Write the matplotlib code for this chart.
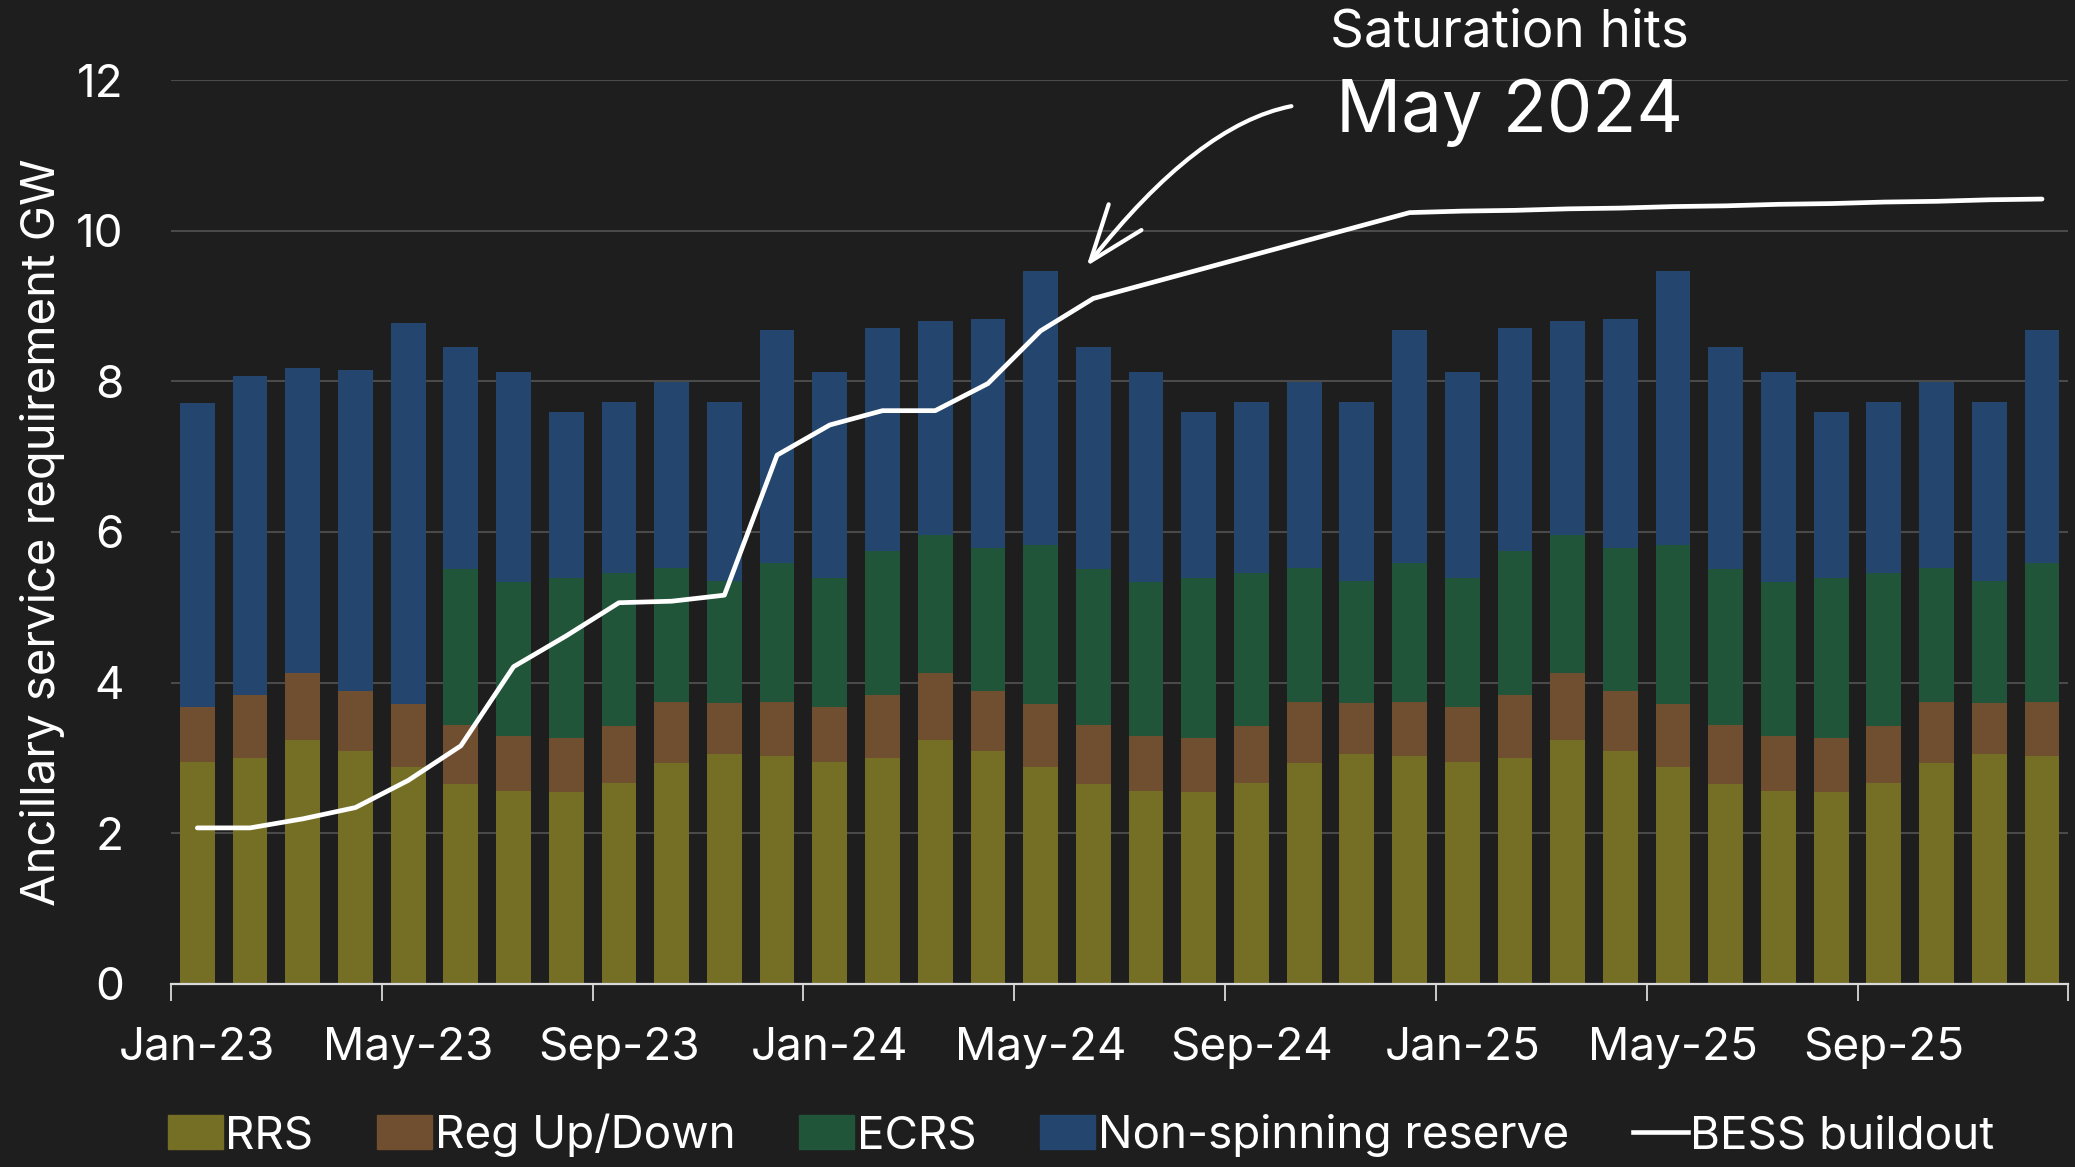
import numpy as np
import matplotlib.pyplot as plt
from matplotlib.patches import Patch
from matplotlib.lines import Line2D

plt.rcParams['font.family'] = ['Inter', 'DejaVu Sans']

# monthly data Jan-23 .. Dec-25
months = ['Jan-23', 'Feb-23', 'Mar-23', 'Apr-23', 'May-23', 'Jun-23', 'Jul-23', 'Aug-23', 'Sep-23', 'Oct-23', 'Nov-23', 'Dec-23',
          'Jan-24', 'Feb-24', 'Mar-24', 'Apr-24', 'May-24', 'Jun-24', 'Jul-24', 'Aug-24', 'Sep-24', 'Oct-24', 'Nov-24', 'Dec-24',
          'Jan-25', 'Feb-25', 'Mar-25', 'Apr-25', 'May-25', 'Jun-25', 'Jul-25', 'Aug-25', 'Sep-25', 'Oct-25', 'Nov-25', 'Dec-25']

rrs = [2.94, 3.00, 3.24, 3.09, 2.88, 2.65, 2.56, 2.54, 2.67, 2.93, 3.05, 3.03,
       2.94, 3.00, 3.24, 3.09, 2.88, 2.65, 2.56, 2.54, 2.67, 2.93, 3.05, 3.03,
       2.94, 3.00, 3.24, 3.09, 2.88, 2.65, 2.56, 2.54, 2.67, 2.93, 3.05, 3.03]
reg = [0.73, 0.83, 0.89, 0.80, 0.84, 0.79, 0.73, 0.72, 0.75, 0.81, 0.68, 0.71,
       0.73, 0.83, 0.89, 0.80, 0.84, 0.79, 0.73, 0.72, 0.75, 0.81, 0.68, 0.71,
       0.73, 0.83, 0.89, 0.80, 0.84, 0.79, 0.73, 0.72, 0.75, 0.81, 0.68, 0.71]
ecrs = [0.00, 0.00, 0.00, 0.00, 0.00, 2.07, 2.04, 2.13, 2.03, 1.78, 1.62, 1.85,
        1.72, 1.92, 1.83, 1.89, 2.11, 2.07, 2.04, 2.13, 2.03, 1.78, 1.62, 1.85,
        1.72, 1.92, 1.83, 1.89, 2.11, 2.07, 2.04, 2.13, 2.03, 1.78, 1.62, 1.85]
nsr = [4.04, 4.24, 4.05, 4.26, 5.05, 2.95, 2.80, 2.20, 2.28, 2.47, 2.38, 3.09,
       2.74, 2.96, 2.84, 3.05, 3.64, 2.95, 2.80, 2.20, 2.28, 2.47, 2.38, 3.09,
       2.74, 2.96, 2.84, 3.05, 3.64, 2.95, 2.80, 2.20, 2.28, 2.47, 2.38, 3.09]
bess = [2.07, 2.07, 2.19, 2.34, 2.70, 3.16, 4.21, 4.62, 5.06, 5.08, 5.16, 7.02,
        7.42, 7.61, 7.61, 7.97, 8.67, 9.10, 9.29, 9.48, 9.67, 9.86, 10.05, 10.24,
        10.26, 10.27, 10.29, 10.30, 10.32, 10.33, 10.35, 10.36, 10.38, 10.39, 10.41, 10.42]

bg = '#1e1e1e'
c_rrs = '#756e25'
c_reg = '#704e30'
c_ecrs = '#215539'
c_nsr = '#24466e'

fig = plt.figure(figsize=(20.75, 11.67), dpi=100, facecolor=bg)
ax = fig.add_axes([0.0824, 0.157, 0.9144, 0.7744], facecolor=bg)

x = np.arange(len(months))
w = 0.66
b1 = np.array(rrs)
b2 = b1 + np.array(reg)
b3 = b2 + np.array(ecrs)
ax.bar(x, rrs, w, color=c_rrs, zorder=2)
ax.bar(x, reg, w, bottom=b1, color=c_reg, zorder=2)
ax.bar(x, ecrs, w, bottom=b2, color=c_ecrs, zorder=2)
ax.bar(x, nsr, w, bottom=b3, color=c_nsr, zorder=2)
ax.plot(x, bess, color='white', lw=3.4, zorder=3, solid_capstyle='round')

ax.set_xlim(-0.5, 35.5)
ax.set_ylim(0, 12)
ax.set_yticks(range(0, 13, 2))
ax.yaxis.grid(True, color='#4a4a4a', lw=1.5, zorder=0)
ax.tick_params(axis='y', length=0, pad=34, labelsize=33, labelcolor='white')

ax.set_xticks(x[::4])
ax.set_xticklabels(months[::4])
ax.set_xticks(np.arange(-0.5, 36, 4), minor=True)
ax.tick_params(axis='x', which='major', length=0, pad=31, labelsize=33, labelcolor='white')
ax.tick_params(axis='x', which='minor', length=12, width=1.3, color='#d9d9d9')

for s in ['top', 'right', 'left']:
    ax.spines[s].set_visible(False)
ax.spines['bottom'].set_color('#d9d9d9')
ax.spines['bottom'].set_linewidth(1.6)

ax.set_ylabel('Ancillary service requirement GW', fontsize=34, color='white', labelpad=8)

ax.text(24.9, 12.63, 'Saturation hits', fontsize=38, color='white', ha='center', va='center', clip_on=False)
ax.text(24.9, 11.56, 'May 2024', fontsize=52, color='white', ha='center', va='center', clip_on=False)
ax.annotate('', xy=(16.84, 9.5), xytext=(20.81, 11.66),
            arrowprops=dict(arrowstyle='->,head_length=1.35,head_width=0.5', color='white', lw=3,
                            mutation_scale=30, connectionstyle='angle3,angleA=10,angleB=52'))

handles = [Patch(color=c_rrs, label='RRS'), Patch(color=c_reg, label='Reg Up/Down'),
           Patch(color=c_ecrs, label='ECRS'), Patch(color=c_nsr, label='Non-spinning reserve'),
           Line2D([0], [0], color='white', lw=3.3, label='BESS buildout')]
leg = fig.legend(handles=handles, loc='center', bbox_to_anchor=(0.521, 0.027), ncol=5, frameon=False,
                 fontsize=33, labelcolor='white', handlelength=1.2, handleheight=0.75,
                 handletextpad=0.05, columnspacing=1.4)

fig.savefig('out.png', dpi=100, facecolor=bg)
